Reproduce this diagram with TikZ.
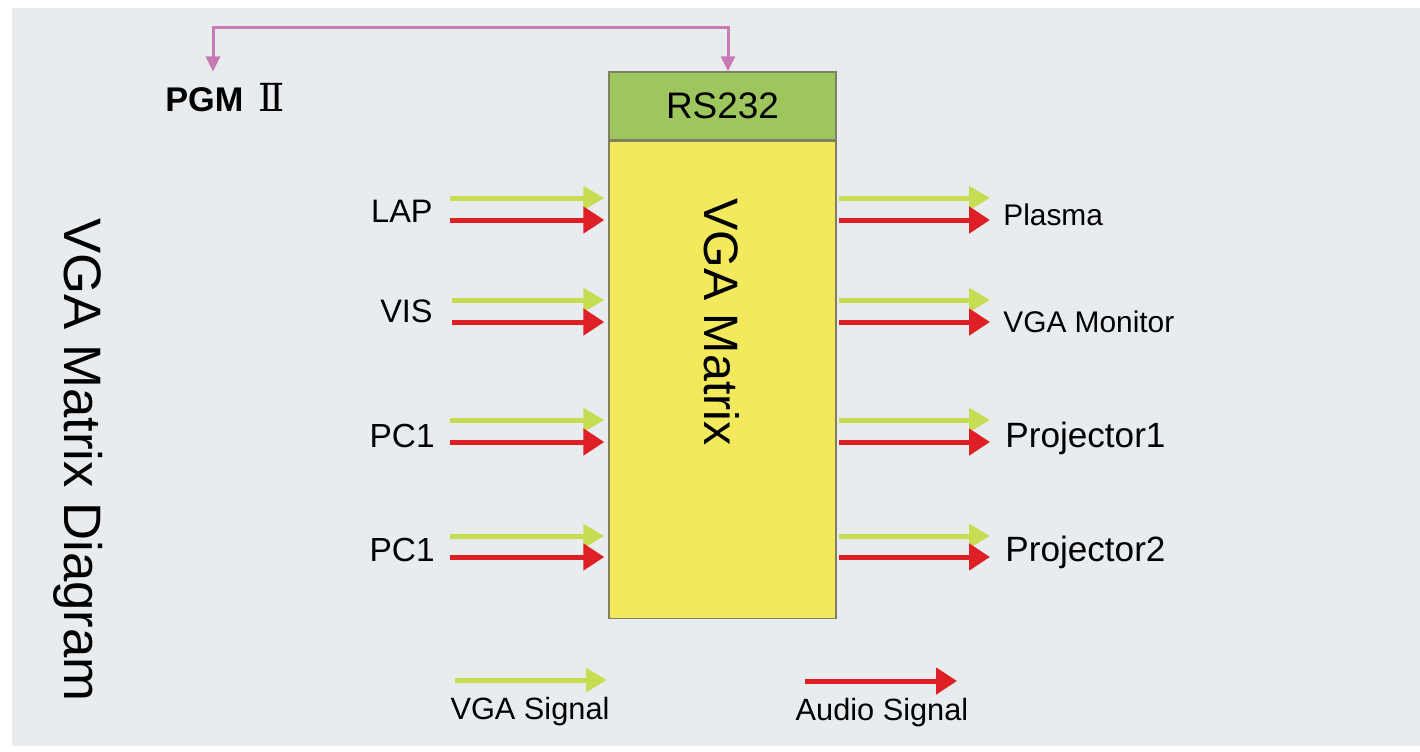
\documentclass[tikz,border=0pt]{standalone}
\usepackage{fontspec}
\setmainfont{Liberation Sans}
\newfontfamily\romanfont{DejaVu Serif}
\usetikzlibrary{positioning,arrows.meta}
\definecolor{panelgray}{RGB}{233,236,239}
\definecolor{boxyellow}{RGB}{242,233,92}
\definecolor{boxgreen}{RGB}{158,198,94}
\definecolor{boxedge}{RGB}{128,128,96}
\definecolor{vgalime}{RGB}{200,220,82}
\definecolor{audiored}{RGB}{222,32,38}
\definecolor{ctrlpink}{RGB}{200,122,178}
\tikzset{
  vga/.style={-{Triangle[length=4.2mm, width=4.6mm]}, line width=1mm, draw=vgalime, fill=vgalime},
  audio/.style={-{Triangle[length=4.2mm, width=5.2mm]}, line width=1mm, draw=audiored, fill=audiored},
  ctrl/.style={{Triangle[length=3mm, width=2.8mm]}-{Triangle[length=3mm, width=2.8mm]}, line width=0.6mm, draw=ctrlpink},
  rsbox/.style={draw=boxedge, fill=boxgreen, line width=0.8pt, minimum width=4.54cm, minimum height=1.36cm, inner sep=0pt, font=\fontsize{21}{24}\selectfont},
  matrixbox/.style={draw=boxedge, fill=boxyellow, line width=0.8pt, minimum width=4.54cm, minimum height=9.54cm, inner sep=0pt},
  inlabel/.style={anchor=base east, inner sep=0pt, font=\fontsize{18.5}{22}\selectfont},
  outlabel/.style={anchor=base west, inner sep=0pt, font=\fontsize{17}{20}\selectfont},
  keylabel/.style={inner sep=0pt, font=\fontsize{17.5}{20}\selectfont},
}

\begin{document}
\begin{tikzpicture}[x=0.02cm, y=-0.02cm]
  \useasboundingbox (0,0) rectangle (1420,751);
  \fill[white] (0,0) rectangle (1420,751);
  \fill[panelgray] (12,8) rectangle (1420,746);

  % matrix box
  \node[rsbox] (rs232) at (722.5,106) {RS232};
  \node[matrixbox, below=0pt of rs232] (vgamatrix) {};
  \node[rotate=-90, font=\fontsize{27.5}{32}\selectfont] (matrixname) at (722,322) {VGA Matrix};

  \node[rotate=-90, font=\fontsize{30}{36}\selectfont] (title) at (78,460) {VGA Matrix Diagram};

  % control line
  \node[anchor=base west, inner sep=0pt] (pgm) at (165,111) {\fontsize{19.5}{22}\selectfont\bfseries PGM\hspace{0.3cm}{\romanfont\mdseries\fontsize{22}{24}\selectfont Ⅱ}};
  \coordinate (busl) at (213,27);
  \coordinate (busr) at (728,27);
  \draw[ctrl, shorten <=0.22cm] (busl |- pgm.north) |- (busr) -- (busr |- rs232.north);

  % inputs
  \node[inlabel] (lap) at (433,222) {LAP};
  \node[inlabel] (vis) at (433,322) {VIS};
  \node[inlabel, font=\fontsize{19}{22}\selectfont] (pca) at (435,447) {PC1};
  \node[inlabel, font=\fontsize{19}{22}\selectfont] (pcb) at (435,561) {PC1};

  \coordinate (lapv) at (450,198);
  \coordinate (lapa) at (450,220);
  \coordinate (visv) at (452,300);
  \coordinate (visa) at (452,322);
  \coordinate (pcav) at (450,420);
  \coordinate (pcaa) at (450,442);
  \coordinate (pcbv) at (450,536);
  \coordinate (pcba) at (450,557);
  \draw[vga, shorten >=0.08cm] (lapv) -- (lapv -| vgamatrix.west);
  \draw[audio, shorten >=0.08cm] (lapa) -- (lapa -| vgamatrix.west);
  \draw[vga, shorten >=0.08cm] (visv) -- (visv -| vgamatrix.west);
  \draw[audio, shorten >=0.08cm] (visa) -- (visa -| vgamatrix.west);
  \draw[vga, shorten >=0.08cm] (pcav) -- (pcav -| vgamatrix.west);
  \draw[audio, shorten >=0.08cm] (pcaa) -- (pcaa -| vgamatrix.west);
  \draw[vga, shorten >=0.08cm] (pcbv) -- (pcbv -| vgamatrix.west);
  \draw[audio, shorten >=0.08cm] (pcba) -- (pcba -| vgamatrix.west);

  % outputs
  \node[outlabel] (plasma) at (1003,225) {Plasma};
  \node[outlabel] (monitor) at (1003,332) {VGA Monitor};
  \node[outlabel, font=\fontsize{20}{24}\selectfont] (proja) at (1005,447) {Projector1};
  \node[outlabel, font=\fontsize{20}{24}\selectfont] (projb) at (1005,561) {Projector2};

  \coordinate (plasv) at (990,198);
  \coordinate (plasa) at (990,220);
  \coordinate (monv) at (990,300);
  \coordinate (mona) at (990,322);
  \coordinate (projav) at (990,420);
  \coordinate (projaa) at (990,442);
  \coordinate (projbv) at (990,536);
  \coordinate (projba) at (990,557);
  \draw[vga, shorten <=0.04cm] (plasv -| vgamatrix.east) -- (plasv);
  \draw[audio, shorten <=0.04cm] (plasa -| vgamatrix.east) -- (plasa);
  \draw[vga, shorten <=0.04cm] (monv -| vgamatrix.east) -- (monv);
  \draw[audio, shorten <=0.04cm] (mona -| vgamatrix.east) -- (mona);
  \draw[vga, shorten <=0.04cm] (projav -| vgamatrix.east) -- (projav);
  \draw[audio, shorten <=0.04cm] (projaa -| vgamatrix.east) -- (projaa);
  \draw[vga, shorten <=0.04cm] (projbv -| vgamatrix.east) -- (projbv);
  \draw[audio, shorten <=0.04cm] (projba -| vgamatrix.east) -- (projba);

  % legend
  \coordinate (vgakeys) at (455,680);
  \coordinate (vgakeye) at (607,680);
  \coordinate (audiokeys) at (805,681);
  \coordinate (audiokeye) at (957,681);
  \draw[vga] (vgakeys) -- (vgakeye);
  \draw[audio] (audiokeys) -- (audiokeye);
  \node[keylabel] (vgakey) at (530,712) {VGA Signal};
  \node[keylabel] (audiokey) at (882,713) {Audio Signal};
\end{tikzpicture}
\end{document}
